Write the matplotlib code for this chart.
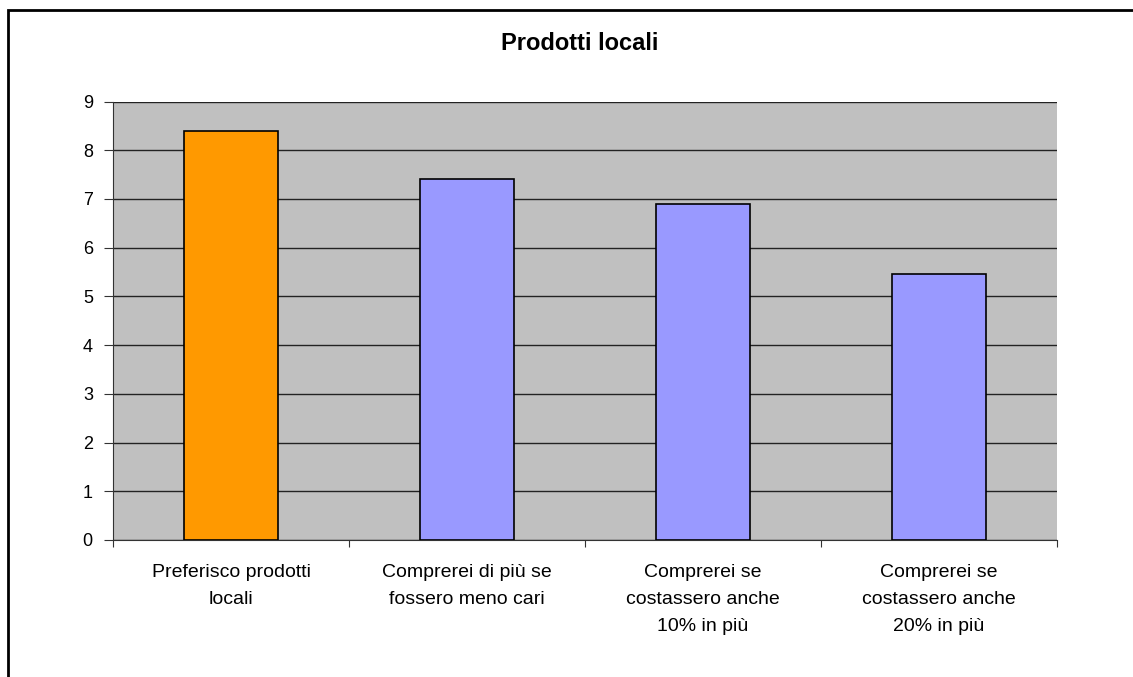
import matplotlib
matplotlib.use("Agg")
import matplotlib.pyplot as plt
from matplotlib.patches import Rectangle

categories = [
    "Preferisco prodotti\nlocali",
    "Comprerei di più se\nfossero meno cari",
    "Comprerei se\ncostassero anche\n10% in più",
    "Comprerei se\ncostassero anche\n20% in più",
]
values = [8.4, 7.4, 6.9, 5.45]
bar_colors = ["#FF9900", "#9999FF", "#9999FF", "#9999FF"]
title = "Prodotti locali"

plt.rcParams["font.family"] = ["Liberation Sans", "DejaVu Sans"]

W, H = 1133, 677
fig = plt.figure(figsize=(W / 100, H / 100), dpi=100)

# outer chart frame (top and left edges visible)
fig.add_artist(Rectangle((8 / W, -0.1), 1.2, 1 - 10 / H + 0.1,
                         transform=fig.transFigure, fill=False,
                         edgecolor="black", linewidth=2))

left, right, top, bottom = 113, 1057, 101.5, 540
ax = fig.add_axes([left / W, 1 - bottom / H, (right - left) / W, (bottom - top) / H])
ax.set_facecolor("#C0C0C0")

x = list(range(len(values)))
ax.bar(x, values, width=0.40, color=bar_colors, edgecolor="black", linewidth=1.2, zorder=3)

ax.set_xlim(-0.5, len(values) - 0.5)
ax.set_ylim(0, 9)
ax.set_yticks(range(0, 10))
ax.yaxis.grid(True, color="#222222", linewidth=1.0, zorder=0)
ax.set_axisbelow(True)

for s in ["top", "right"]:
    ax.spines[s].set_visible(False)
ax.spines["left"].set_color("#333333")
ax.spines["bottom"].set_color("#333333")

ax.tick_params(axis="y", length=6.5, direction="out", labelsize=13, pad=8, color="#333333")
ax.set_xticks([i + 0.5 for i in range(-1, len(values))], minor=False)
ax.set_xticklabels([])
ax.tick_params(axis="x", which="major", length=5, direction="out", color="#333333")
ax.set_xticks(x, minor=True)
ax.set_xticklabels(categories, minor=True, fontsize=14, linespacing=1.74, va="top")
ax.tick_params(axis="x", which="minor", length=0, pad=17.5)

fig.text(580 / W, 1 - 44 / H, title, ha="center", va="center",
         fontsize=17, fontweight="bold")

fig.savefig("out.png", dpi=100, facecolor="white")
